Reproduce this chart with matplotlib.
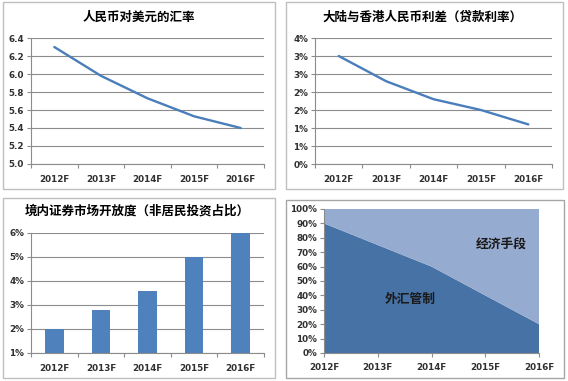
import matplotlib
matplotlib.use("Agg")
import matplotlib.pyplot as plt
from matplotlib.patches import Rectangle
from matplotlib.ticker import FixedLocator
from matplotlib import font_manager

plt.rcParams['font.family'] = ['Noto Sans CJK SC', 'DejaVu Sans']

years = ["2012F", "2013F", "2014F", "2015F", "2016F"]
fx_rate = [6.30, 5.98, 5.73, 5.53, 5.40]
rate_spread = [3.0, 2.3, 1.8, 1.5, 1.1]
openness = [2.0, 2.8, 3.6, 5.0, 6.0]
fx_control = [90, 75, 60, 40, 20]
economic = [10, 25, 40, 60, 80]

titles = ["人民币对美元的汇率", "大陆与香港人民币利差（贷款利率）", "境内证券市场开放度（非居民投资占比）"]
spread_ticks = [0, 0.5, 1.0, 1.5, 2.0, 2.5, 3.0, 3.5]
spread_labels = ["0%", "1%", "1%", "2%", "2%", "3%", "3%", "4%"]
area_labels = ["外汇管制", "经济手段"]

names = {f.name for f in font_manager.fontManager.ttflist}
label_family = "Liberation Sans Narrow" if "Liberation Sans Narrow" in names else "DejaVu Sans"

W, H = 568, 381
fig = plt.figure(figsize=(W / 100, H / 100), dpi=100)

def px_axes(x0, y0, x1, y1):
    return fig.add_axes([x0 / W, 1 - y1 / H, (x1 - x0) / W, (y1 - y0) / H])

def border(x0, y0, x1, y1, color="#BFBFBF"):
    fig.patches.append(Rectangle((x0 / W, 1 - y1 / H), (x1 - x0) / W, (y1 - y0) / H,
                                 transform=fig.transFigure, fill=False,
                                 edgecolor=color, linewidth=1.0))

border(3, 2, 275, 189)
border(286, 2, 563, 189)
border(3, 198, 275, 378)
border(286, 200, 564, 378, color="#A6A6A6")

LS = 7.2 if label_family != "DejaVu Sans" else 6.3
LC = "#303030"
grid_c = "#8C8C8C"
line_c = "#4A7EBB"
TS = 9.0
TW = "bold"

def label_weight(ax):
    for t in ax.get_xticklabels(which="both") + ax.get_yticklabels():
        t.set_fontweight("bold")
        t.set_family([label_family])

def style(ax):
    for s in ["top", "right"]:
        ax.spines[s].set_visible(False)
    for s in ["left", "bottom"]:
        ax.spines[s].set_color(grid_c)
        ax.spines[s].set_linewidth(0.8)
    ax.tick_params(axis="both", which="both", direction="out", length=3,
                   color=grid_c, width=0.8, labelsize=LS, labelcolor=LC, pad=2)
    ax.yaxis.grid(True, color=grid_c, linewidth=0.8)
    ax.set_axisbelow(True)

def cat_axis(ax):
    n = len(years)
    ax.set_xlim(-0.5, n - 0.5)
    ax.xaxis.set_major_locator(FixedLocator([i - 0.5 for i in range(n + 1)]))
    ax.xaxis.set_minor_locator(FixedLocator(list(range(n))))
    ax.set_xticklabels([""] * (n + 1))
    ax.set_xticklabels(years, minor=True)
    ax.tick_params(axis="x", which="minor", length=0, pad=8)
    ax.tick_params(axis="x", which="major", length=3)

# Panel 1
ax1 = px_axes(31, 38, 264, 164)
style(ax1)
ax1.plot(range(len(years)), fx_rate, color=line_c, linewidth=1.7, solid_capstyle="round")
ax1.set_ylim(5.0, 6.4)
ax1.set_yticks([5.0, 5.2, 5.4, 5.6, 5.8, 6.0, 6.2, 6.4])
ax1.set_yticklabels(["%.1f" % v for v in [5.0, 5.2, 5.4, 5.6, 5.8, 6.0, 6.2, 6.4]])
cat_axis(ax1)
label_weight(ax1)
fig.text(139 / W, 1 - 17 / H, titles[0], ha="center", va="center", fontsize=TS, fontweight=TW)

# Panel 2
ax2 = px_axes(315, 38, 552, 164)
style(ax2)
ax2.plot(range(len(years)), rate_spread, color=line_c, linewidth=1.7, solid_capstyle="round")
ax2.set_ylim(0, 3.5)
ax2.set_yticks(spread_ticks)
ax2.set_yticklabels(spread_labels)
cat_axis(ax2)
label_weight(ax2)
fig.text(422 / W, 1 - 17 / H, titles[1], ha="center", va="center", fontsize=TS, fontweight=TW)

# Panel 3
ax3 = px_axes(31, 233, 264, 353)
style(ax3)
ax3.bar(range(len(years)), [v - 1 for v in openness], bottom=1, width=0.4, color="#4F81BD")
ax3.set_ylim(1, 6)
ax3.set_yticks([1, 2, 3, 4, 5, 6])
ax3.set_yticklabels(["%d%%" % v for v in [1, 2, 3, 4, 5, 6]])
cat_axis(ax3)
label_weight(ax3)
fig.text(137 / W, 1 - 211 / H, titles[2], ha="center", va="center", fontsize=TS, fontweight=TW)

# Panel 4
ax4 = px_axes(324, 209, 539, 353)
for s in ["top", "right"]:
    ax4.spines[s].set_visible(False)
for s in ["left", "bottom"]:
    ax4.spines[s].set_color(grid_c)
    ax4.spines[s].set_linewidth(0.8)
x = list(range(len(years)))
ax4.stackplot(x, fx_control, economic, colors=["#4672A6", "#96ABD0"], linewidth=0)
ax4.set_xlim(0, len(years) - 1)
ax4.set_ylim(0, 100)
ax4.set_yticks(range(0, 101, 10))
ax4.set_yticklabels(["%d%%" % v for v in range(0, 101, 10)])
ax4.set_xticks(x)
ax4.set_xticklabels(years)
ax4.tick_params(axis="both", direction="out", length=3, color=grid_c, width=0.8,
                labelsize=LS, labelcolor=LC, pad=2)
ax4.tick_params(axis="x", pad=4)
label_weight(ax4)
ax4.text(1.6, 37, area_labels[0], ha="center", va="center", fontsize=9.2, fontweight=TW, color="#1a1a1a")
ax4.text(3.3, 75, area_labels[1], ha="center", va="center", fontsize=9.2, fontweight=TW, color="#1a1a1a")

fig.savefig("out.png", dpi=100, facecolor="white")
